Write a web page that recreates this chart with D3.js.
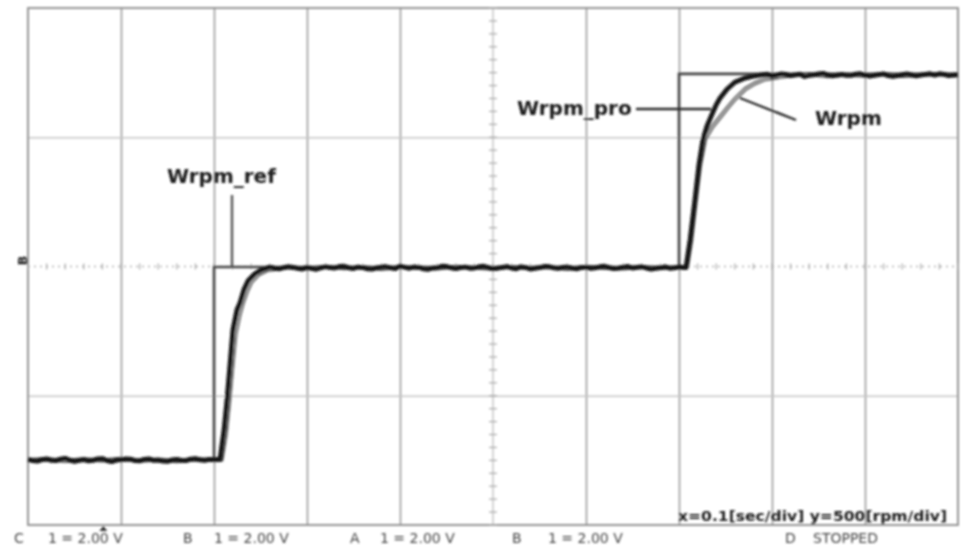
<!DOCTYPE html>
<html>
<head>
<meta charset="utf-8">
<script src="https://cdn.jsdelivr.net/npm/d3@7/dist/d3.min.js"></script>
<style>
  html, body { margin: 0; padding: 0; background: #fff; }
  svg { display: block; }
</style>
</head>
<body>
<svg id="scope" width="963" height="546"></svg>
<script>
// Speed step response captured on the scope: x = 0.1 s/div, y = 500 rpm/div

// Reference speed command (step changes)
const refTime = [0, 0.2, 0.7, 1.0];
const wrpmRef = [250, 998, 1745, 1745];

// Proposed-controller speed (black trace).
// Steady stretches are scope samples taken every 5 ms.
const sampleStep = 0.005;
const proSteady1Start = 0.0;
const proSteady1 = [
  254, 249, 247, 253, 256, 250, 249, 255, 258, 251,
  246, 250, 253, 248, 250, 256, 257, 249, 245, 251,
  252, 256, 255, 249, 248, 254, 256, 250, 251, 247,
  246, 252, 254, 250, 249, 255, 257, 252, 250, 254,
  253
];
const proRise1Time = [0.2065, 0.2108, 0.214, 0.2172, 0.2204, 0.2247, 0.228, 0.2323, 0.2366, 0.244, 0.25, 0.255];
const proRise1 = [255, 368, 484, 620, 756, 833, 860, 912, 945, 972, 985, 991];
const proSteady2Start = 0.26;
const proSteady2 = [
  998, 994, 991, 996, 1000, 997, 993, 990, 997, 993,
  989, 995, 999, 996, 994, 1000, 1001, 995, 992, 998,
  996, 991, 990, 995, 998, 999, 995, 992, 1002, 997,
  993, 998, 997, 991, 989, 994, 996, 1001, 1000, 995,
  992, 996, 998, 993, 994, 999, 1001, 996, 991, 994,
  997, 1000, 994, 991, 999, 996, 990, 993, 996, 1000,
  1000, 995, 993, 997, 998, 994, 991, 996, 997, 993,
  995, 999, 1001, 996, 992, 994, 998, 1000, 994, 997,
  999, 994, 990, 993, 996, 999, 993, 995, 998
];
const proRise2Time = [0.7075, 0.712, 0.7172, 0.7215, 0.7258, 0.730, 0.7355, 0.7398, 0.744, 0.7516, 0.760, 0.771, 0.78];
const proRise2 = [996, 1105, 1260, 1395, 1492, 1543, 1589, 1624, 1651, 1686, 1713, 1729, 1736];
const proSteady3Start = 0.785;
const proSteady3 = [
  1739, 1742, 1744, 1736, 1740, 1745, 1743, 1738, 1741, 1744,
  1735, 1739, 1741, 1745, 1747, 1741, 1737, 1740, 1743, 1739,
  1739, 1744, 1746, 1740, 1736, 1739, 1742, 1745, 1738, 1735,
  1738, 1742, 1745, 1741, 1737, 1740, 1743, 1746, 1740, 1746,
  1743, 1738, 1740, 1742
];

// Measured speed (grey trace)
const spdTime = [
  0.00, 0.02, 0.04, 0.06, 0.08, 0.10, 0.12, 0.14, 0.16, 0.18,
  0.20, 0.208, 0.2125, 0.216, 0.2195, 0.223, 0.2275, 0.231, 0.2355, 0.240,
  0.248, 0.258,
  0.28, 0.30, 0.32, 0.34, 0.36, 0.38, 0.40, 0.42, 0.44, 0.46,
  0.48, 0.50, 0.52, 0.54, 0.56, 0.58, 0.60, 0.62, 0.64, 0.66,
  0.68, 0.70, 0.7085,
  0.713, 0.718, 0.7225, 0.728, 0.7355, 0.744, 0.7527, 0.760, 0.771, 0.7817,
  0.7925, 0.8086,
  0.82, 0.84, 0.86, 0.88, 0.90, 0.92, 0.94, 0.96, 0.98, 1.00
];
const wrpm = [
  251, 255, 248, 254, 250, 256, 249, 253, 247, 255,
  251, 252, 350, 470, 610, 740, 815, 860, 905, 940,
  970, 987,
  996, 992, 999, 994, 997, 991, 998, 995, 993, 999,
  996, 992, 998, 994, 997, 991, 999, 995, 993, 998,
  994, 997, 997,
  1100, 1255, 1390, 1492, 1539, 1577, 1616, 1647, 1686, 1709,
  1725, 1733,
  1739, 1744, 1736, 1742, 1738, 1745, 1737, 1741, 1744, 1739
];

// Screen divisions
const timeDivs = [0.1, 0.2, 0.3, 0.4, 0.6, 0.7, 0.8, 0.9];
const speedDivs = [500, 1500];
const centerTime = 0.5;
const centerSpeed = 1000;

const scaleLabel = "x=0.1[sec/div] y=500[rpm/div]";
const statusLabels = [
  { x: 14, text: "C" }, { x: 48, text: "1 = 2.00 V" },
  { x: 183, text: "B" }, { x: 214, text: "1 = 2.00 V" },
  { x: 350, text: "A" }, { x: 380, text: "1 = 2.00 V" },
  { x: 512, text: "B" }, { x: 548, text: "1 = 2.00 V" },
  { x: 785, text: "D" }, { x: 813, text: "STOPPED" }
];

const svg = d3.select("#scope");
const plotLeft = 28, plotRight = 958, plotTop = 8, plotBottom = 525;

const x = d3.scaleLinear().domain([0, 1.0]).range([plotLeft, plotRight]);
const y = d3.scaleLinear().domain([0, 2000]).range([plotBottom, plotTop]);

const defs = svg.append("defs");
defs.append("filter").attr("id", "soft")
  .attr("x", "-5%").attr("y", "-5%").attr("width", "110%").attr("height", "110%")
  .append("feGaussianBlur").attr("stdDeviation", 0.8);

const g = svg.append("g").attr("filter", "url(#soft)");

// Graticule
const vGrid = g.append("g").attr("transform", `translate(0,${plotBottom})`)
  .call(d3.axisBottom(x).tickValues(timeDivs).tickSize(-(plotBottom - plotTop)).tickFormat(""));
vGrid.select(".domain").remove();
vGrid.selectAll(".tick line").attr("stroke", "#9a9a9a").attr("stroke-width", 1.6);

const hGrid = g.append("g").attr("transform", `translate(${plotLeft},0)`)
  .call(d3.axisLeft(y).tickValues(speedDivs).tickSize(-(plotRight - plotLeft)).tickFormat(""));
hGrid.select(".domain").remove();
hGrid.selectAll(".tick line").attr("stroke", "#c4c4c4").attr("stroke-width", 1.6);

// Frame
g.append("rect")
  .attr("x", plotLeft).attr("y", plotTop)
  .attr("width", plotRight - plotLeft).attr("height", plotBottom - plotTop)
  .attr("fill", "none").attr("stroke", "#8a8a8a").attr("stroke-width", 1.8);

// Centre axes with minor ticks
g.append("line")
  .attr("x1", plotLeft).attr("x2", plotRight)
  .attr("y1", y(centerSpeed)).attr("y2", y(centerSpeed))
  .attr("stroke", "#b0b0b0").attr("stroke-width", 1.5)
  .attr("stroke-dasharray", "2,4");
g.append("line")
  .attr("x1", x(centerTime)).attr("x2", x(centerTime))
  .attr("y1", plotTop).attr("y2", plotBottom)
  .attr("stroke", "#b8b8b8").attr("stroke-width", 1.2);

const minorX = d3.range(0, 1.0001, 0.02);
g.append("g").selectAll("line").data(minorX).join("line")
  .attr("x1", d => x(d)).attr("x2", d => x(d))
  .attr("y1", y(centerSpeed) - 3).attr("y2", y(centerSpeed) + 3)
  .attr("stroke", "#a8a8a8").attr("stroke-width", 1.2);
const minorY = d3.range(0, 2000.1, 50);
g.append("g").selectAll("line").data(minorY).join("line")
  .attr("x1", x(centerTime) - 4).attr("x2", x(centerTime) + 4)
  .attr("y1", d => y(d)).attr("y2", d => y(d))
  .attr("stroke", "#a8a8a8").attr("stroke-width", 1.2);

// Traces
const steady = (start, vals) => vals.map((v, i) => [start + i * sampleStep, v]);
const proPts = [
  ...steady(proSteady1Start, proSteady1),
  ...d3.zip(proRise1Time, proRise1),
  ...steady(proSteady2Start, proSteady2),
  ...d3.zip(proRise2Time, proRise2),
  ...steady(proSteady3Start, proSteady3)
];
const refPts = d3.zip(refTime, wrpmRef);
const spdPts = d3.zip(spdTime, wrpm);

const line = d3.line().x(d => x(d[0])).y(d => y(d[1]));

g.append("path").datum(refPts)
  .attr("d", line.curve(d3.curveStepAfter))
  .attr("fill", "none").attr("stroke", "#454545").attr("stroke-width", 2.6);

line.curve(d3.curveLinear);
g.append("path").datum(spdPts).attr("d", line)
  .attr("fill", "none").attr("stroke", "#4a4a4a").attr("stroke-width", 4.2)
  .attr("stroke-linejoin", "round");
g.append("path").datum(spdPts).attr("d", line)
  .attr("fill", "none").attr("stroke", "#b5b5b5").attr("stroke-width", 1.8)
  .attr("stroke-linejoin", "round");

g.append("path").datum(proPts).attr("d", line)
  .attr("fill", "none").attr("stroke", "#151515").attr("stroke-width", 4.8)
  .attr("stroke-linejoin", "round");

// Trace labels and leaders
const label = (tx, ty, text) => g.append("text")
  .attr("x", tx).attr("y", ty)
  .attr("font-family", "'DejaVu Sans', sans-serif")
  .attr("font-weight", "bold").attr("font-size", 20)
  .attr("fill", "#1a1a1a").text(text);

label(167, 183, "Wrpm_ref");
label(517, 115, "Wrpm_pro");
label(815, 125, "Wrpm");

g.append("line").attr("x1", 232).attr("x2", 232).attr("y1", 195).attr("y2", y(wrpmRef[1]))
  .attr("stroke", "#555").attr("stroke-width", 2.4);
g.append("line").attr("x1", 636).attr("x2", 711).attr("y1", 109).attr("y2", 109)
  .attr("stroke", "#2a2a2a").attr("stroke-width", 2.4);
g.append("line").attr("x1", 740).attr("x2", 796).attr("y1", 98).attr("y2", 120)
  .attr("stroke", "#2a2a2a").attr("stroke-width", 2.4);

// Scale annotation
g.append("text")
  .attr("x", 678).attr("y", 521)
  .attr("font-family", "'DejaVu Sans', sans-serif")
  .attr("font-weight", "bold").attr("font-size", 13.5)
  .attr("textLength", 269).attr("lengthAdjust", "spacingAndGlyphs")
  .attr("fill", "#1a1a1a").text(scaleLabel);

// Channel marker on the left edge
g.append("text")
  .attr("transform", `translate(27,${y(centerSpeed) - 6}) rotate(-90)`)
  .attr("text-anchor", "middle")
  .attr("font-family", "'DejaVu Sans', sans-serif")
  .attr("font-weight", "bold").attr("font-size", 13)
  .attr("fill", "#222").text("B");

// Trigger marker
g.append("path")
  .attr("d", `M${x(0.081) - 4},${plotBottom + 6} L${x(0.081)},${plotBottom + 1} L${x(0.081) + 4},${plotBottom + 6} Z`)
  .attr("fill", "#333");

// Status line along the bottom edge
g.append("g").selectAll("text").data(statusLabels).join("text")
  .attr("x", d => d.x).attr("y", 543)
  .attr("font-family", "'DejaVu Sans', sans-serif")
  .attr("font-size", 14)
  .attr("fill", "#444").text(d => d.text);
</script>
</body>
</html>
